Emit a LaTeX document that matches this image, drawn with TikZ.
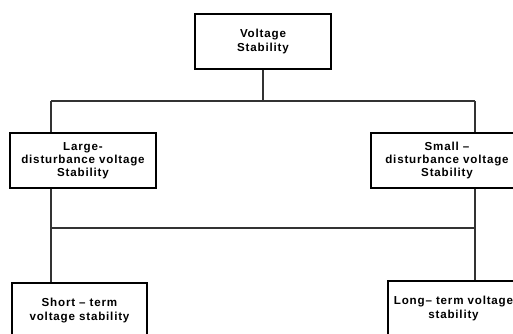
\documentclass[tikz,border=0pt]{standalone}
\usepackage{fontspec}
\setmainfont{Liberation Sans}[LetterSpace=7]
\usepackage{tikz}
\usetikzlibrary{positioning}

\begin{document}
\begin{tikzpicture}[
    box/.style={draw, line width=0.6pt, fill=white, align=center, minimum height=1.1cm, inner sep=1pt,
        font=\fontsize{6.6}{7.5}\selectfont\bfseries},
    link/.style={draw, line width=0.6pt, black!80}
]
\useasboundingbox (0,0) rectangle (10.26,-6.66);
\clip (0,0) rectangle (10.26,-6.66);

\node[box, minimum width=2.72cm] (volt) at (5.26, -0.83) {Voltage\\Stability};
\node[box, minimum width=2.92cm] (large) at (1.66, -3.21) {Large-\\disturbance voltage\\Stability};
\node[box, minimum width=3.04cm] (small) at (8.94, -3.21) {Small --\\disturbance voltage\\Stability};
\node[box, minimum width=2.70cm] (short) at (1.59, -6.21) {Short -- term\\voltage stability};
\node[box, minimum width=2.62cm] (long) at (9.07, -6.17) {Long-- term voltage\\stability};

\coordinate (busA) at (5.26, -2.02);
\coordinate (busAL) at (1.02, -2.02);
\coordinate (busAR) at (9.50, -2.02);
\coordinate (busBL) at (1.02, -4.56);
\coordinate (busBR) at (9.50, -4.56);

\draw[link] (volt.south) -- (busA);
\draw[link] (busAL) -- (busAR);
\draw[link] (busAL) -- (busAL |- large.north);
\draw[link] (busAR) -- (busAR |- small.north);
\draw[link] (busBL |- large.south) -- (busBL |- short.north);
\draw[link] (busBR |- small.south) -- (busBR |- long.north);
\draw[link] (busBL) -- (busBR);

\end{tikzpicture}
\end{document}
